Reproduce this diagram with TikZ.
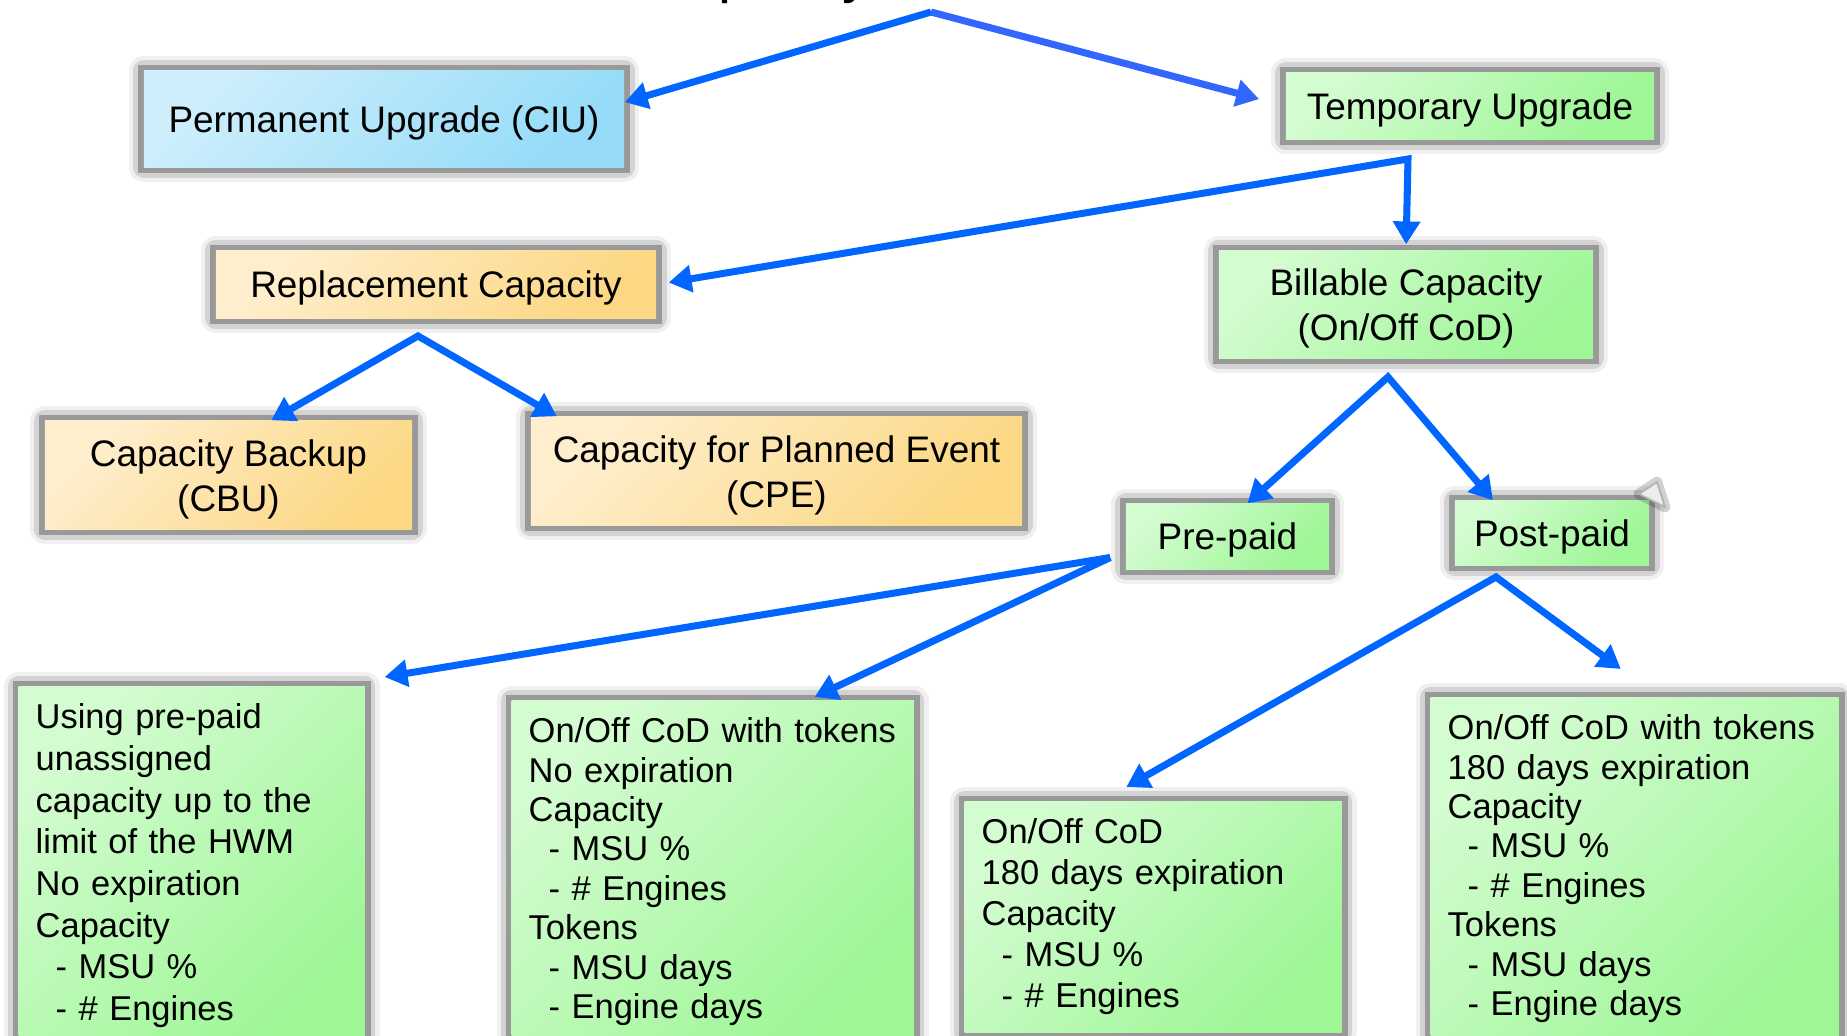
\documentclass[tikz,border=0pt]{standalone}
\usepackage{fontspec}
\setmainfont{Liberation Sans}
\usepackage{tikz}
\usetikzlibrary{positioning,arrows.meta}
\definecolor{bluelight}{RGB}{206,238,252}
\definecolor{bluedark}{RGB}{150,220,248}
\definecolor{greenlight}{RGB}{212,252,209}
\definecolor{greendark}{RGB}{158,246,150}
\definecolor{orangelight}{RGB}{255,238,206}
\definecolor{orangedark}{RGB}{252,216,132}
\definecolor{linkblue}{RGB}{0,102,255}
\definecolor{linklilac}{RGB}{51,102,255}
\newcommand{\dashitem}{\hspace*{0.2cm}- }
\newcommand{\capline}{\rule{0pt}{10pt}}
\tikzset{
  framed/.style={rectangle,
              preaction={draw=black, opacity=.06, line width=8.5pt, line join=round},
              preaction={draw=black, opacity=.12, line width=6pt, line join=round},
              preaction={draw=gray!80, line width=3.4pt}}, % grey frame with soft glow
  box/.style={framed, inner sep=0pt, align=center,
              font=\fontsize{10.5}{12.8}\selectfont,
              execute at begin node={\rule{0pt}{9.8pt}}},
  note/.style={framed, anchor=north west, align=left, inner sep=0.17cm},
  blue/.style={top color=bluelight, bottom color=bluedark, shading angle=45},
  green/.style={top color=greenlight, bottom color=greendark, shading angle=45},
  orange/.style={top color=orangelight, bottom color=orangedark, shading angle=45},
  link/.style={draw=linkblue, line width=2pt, line join=miter, ->,
               >={Triangle[length=6.5pt,width=7.5pt]}},
}
\begin{document}
\begin{tikzpicture}[x=0.01cm, y=-0.01cm]
  \useasboundingbox (0,0) rectangle (1847,1036);

  \node[anchor=base west, font=\fontsize{16.7}{20}\selectfont] (title) at (631,-9) {Capacity on Demand};

  \node[box, blue, minimum width=4.8cm, minimum height=0.96cm] (perm) at (384,119) {Permanent Upgrade (CIU)};
  \node[box, green, minimum width=3.68cm, minimum height=0.66cm] (temp) at (1470,106) {Temporary Upgrade};
  \node[box, orange, minimum width=4.4cm, minimum height=0.67cm] (repl) at (436,284.5) {Replacement Capacity};
  \node[box, green, minimum width=3.74cm, minimum height=1.07cm] (bill) at (1406,304.5) {\capline Billable Capacity\\(On/Off CoD)};
  \node[box, orange, minimum width=3.67cm, minimum height=1.08cm] (cbu) at (228.5,475) {\capline Capacity Backup\\(CBU)};
  \node[box, orange, minimum width=4.91cm, minimum height=1.08cm] (cpe) at (776.5,471) {\capline Capacity for Planned Event\\(CPE)};
  \node[box, green, minimum width=2.03cm, minimum height=0.65cm] (pre) at (1227.5,536.5) {Pre-paid};
  \node[box, green, minimum width=1.94cm, minimum height=0.64cm] (post) at (1552,533) {Post-paid};

  \node[note, green, text width=3.12cm, font=\fontsize{9.8}{11.86}\selectfont] (usepre) at (18,686)
    {Using pre-paid\\unassigned\\capacity up to the\\limit of the HWM\\No expiration\\Capacity\\\dashitem MSU \%\\\dashitem \# Engines};
  \node[note, green, text width=3.68cm, font=\fontsize{9.8}{11.2}\selectfont] (nocod) at (511,700)
    {On/Off CoD with tokens\\No expiration\\Capacity\\\dashitem MSU \%\\\dashitem \# Engines\\Tokens\\\dashitem MSU days\\\dashitem Engine days};
  \node[note, green, text width=3.43cm, font=\fontsize{9.8}{11.67}\selectfont] (cod) at (964,801)
    {On/Off CoD\\180 days expiration\\Capacity\\\dashitem MSU \%\\\dashitem \# Engines};
  \node[note, green, text width=3.74cm, font=\fontsize{9.8}{11.2}\selectfont] (codtok) at (1430,697)
    {On/Off CoD with tokens\\180 days expiration\\Capacity\\\dashitem MSU \%\\\dashitem \# Engines\\Tokens\\\dashitem MSU days\\\dashitem Engine days};

  % split points
  \coordinate (topfork) at (931,12);
  \coordinate (tempfork) at (1408,159);
  \coordinate (replfork) at (418,336);
  \coordinate (billfork) at (1388,377);
  \coordinate (prefork) at ([xshift=-0.15cm,yshift=-0.21cm]pre.west);
  \coordinate (postfork) at (1496,577);

  \draw[link] (topfork) -- (perm.4);
  \draw[link, draw=linklilac, shorten >=0.27cm] (topfork) -- (temp.west);
  \draw[link, <->, shorten <=0.12cm, shorten >=0.06cm] (repl.east) -- (tempfork) -- (bill.north);
  \draw[link, <->] (cbu.52) -- (replfork) -- (cpe.166);
  \draw[link, <->] (pre.59) -- (billfork) -- (post.151);
  \draw[link] (prefork) -- ([xshift=0.19cm,yshift=0.09cm]usepre.north east);
  \draw[link] (prefork) -- ([xshift=-1cm,yshift=0.03cm]nocod.north east);
  \draw[link, <->] ([xshift=-0.27cm,yshift=0.14cm]cod.north) -- (postfork) -- ([xshift=-0.14cm,yshift=0.28cm]codtok.north);

  \filldraw[fill=gray!15, draw=gray!60, line width=0.5pt,
            preaction={draw=black, opacity=.18, line width=3pt, line join=round}]
    (1639,494) -- (1657,482) -- (1665,507) -- cycle;
\end{tikzpicture}
\end{document}
